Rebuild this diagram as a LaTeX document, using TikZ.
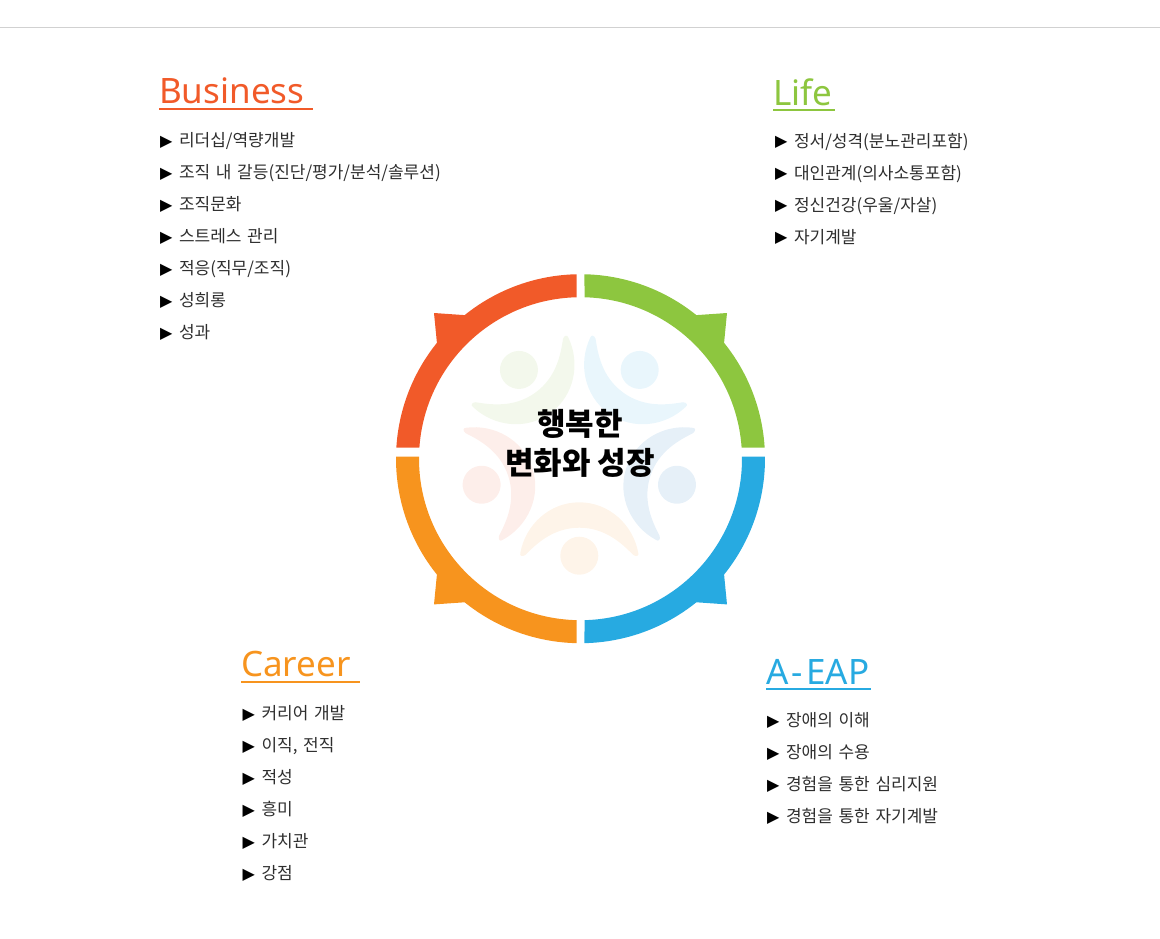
\documentclass[tikz,border=0pt]{standalone}
\usepackage{fontspec}
\setmainfont{Noto Sans CJK KR}
\newfontfamily\trifont{DejaVu Sans}
\newfontfamily\headfont{Noto Sans}
\usetikzlibrary{chains,positioning}

\definecolor{bizred}{HTML}{F15A29}
\definecolor{lifegreen}{HTML}{8DC63F}
\definecolor{eapblue}{HTML}{27AAE1}
\definecolor{careerorange}{HTML}{F7941E}
\definecolor{paleorange}{HTML}{FEF4E9}
\definecolor{palered}{HTML}{FDEEEA}
\definecolor{palegreen}{HTML}{F3F8EC}
\definecolor{palesky}{HTML}{E9F6FC}
\definecolor{paleblue}{HTML}{E6F0F8}

\tikzset{
  headtitle/.style={anchor=base west,inner sep=0pt,align=left,font=\headfont\fontsize{35}{35}\selectfont},
  headline/.style={line width=2pt},
  listrow/.style={on chain,text width=300pt,minimum height=32pt,inner sep=0pt,outer sep=0pt,align=left,
    text=black!82,font=\fontsize{17}{20}\selectfont},
}
\newcommand{\rowtext}[1]{\rule[-4pt]{0pt}{20pt}\makebox[19pt][l]{\raisebox{0.7pt}{\color{black}\trifont\fontsize{16}{16}\selectfont ▶}}#1}

\begin{document}
\begin{tikzpicture}[x=1pt,y=1pt]

\useasboundingbox (0,0) rectangle (1160,-938);
\coordinate (ruleL) at (0,-27.5);
\coordinate (ruleR) at (1160,-27.5);
\draw[black!18,line width=1pt] (ruleL) -- (ruleR);

% faint figures
\begin{scope}[shift={(579.3,-453)}]
\foreach \ang/\col in {0/paleorange,-72/palered,-144/palegreen,-216/palesky,-288/paleblue} {
  \begin{scope}[rotate=\ang]
  \fill[\col] (-59,-100) .. controls (-54,-72) and (-30,-49.3) .. (0,-49.3)
    .. controls (30,-49.3) and (54,-72) .. (59,-100)
    .. controls (60,-103) and (57,-104) .. (54,-102)
    .. controls (44,-92) and (27,-74.7) .. (0,-74.7)
    .. controls (-27,-74.7) and (-44,-92) .. (-54,-102)
    .. controls (-57,-104) and (-60,-103) .. (-59,-100) -- cycle;
  \fill[\col] (0,-102.7) circle (19);
  \end{scope}
}
\end{scope}

% ring
\begin{scope}[shift={(580.5,-458.7)}]
\foreach \sx/\sy/\col/\ao/\ai in {1/1/lifegreen/3.42/3.9,-1/1/bizred/3.42/3.9,1/-1/eapblue/-0.62/-0.71,-1/-1/careerorange/-0.62/-0.71} {
  \begin{scope}[xscale=\sx,yscale=\sy]
  \fill[\col] (88.76:184.5) arc (88.76:51.1:184.5) -- (146.5,145.7) -- (38.9:184.5)
    arc (38.9:\ao:184.5) -- (\ai:161.5) arc (\ai:88.58:161.5) -- cycle;
  \end{scope}
}
\end{scope}

\node[align=center,inner sep=0pt,font=\fontsize{31}{38.5}\selectfont\bfseries] (center) at (580,-443.4) {행복한\\변화와 성장};

% Business
\node[headtitle,text width=154pt,text=bizred] (biz) at (159,-103.3) {Business};
\draw[bizred,headline] ([yshift=-6pt]biz.base west) -- ([yshift=-6pt]biz.base east);
\begin{scope}[shift={(310,-140.7)},start chain=going below,node distance=0pt]
\def\bizlist{1/{리더십/역량개발},2/{조직 내 갈등(진단/평가/분석/솔루션)},3/{조직문화},4/{스트레스 관리},5/{적응(직무/조직)},6/{성희롱},7/{성과}}
\foreach \i / \element in \bizlist
  \node [listrow] (b\i) {\rowtext{\element}};
\end{scope}

% Life
\node[headtitle,text width=62pt,text=lifegreen] (life) at (773,-105) {Life};
\draw[lifegreen,headline] ([yshift=-5.3pt]life.base west) -- ([yshift=-5.3pt]life.base east);
\begin{scope}[shift={(925,-141.4)},start chain=going below,node distance=0pt]
\def\lifelist{1/{정서/성격(분노관리포함)},2/{대인관계(의사소통포함)},3/{정신건강(우울/자살)},4/{자기계발}}
\foreach \i / \element in \lifelist
  \node [listrow] (l\i) {\rowtext{\element}};
\end{scope}

% Career
\node[headtitle,text width=119pt,text=careerorange] (career) at (241,-676.7) {Career};
\draw[careerorange,headline] ([yshift=-5.6pt]career.base west) -- ([yshift=-5.6pt]career.base east);
\begin{scope}[shift={(392.5,-713.7)},start chain=going below,node distance=0pt]
\def\careerlist{1/{커리어 개발},2/{이직, 전직},3/{적성},4/{흥미},5/{가치관},6/{강점}}
\foreach \i / \element in \careerlist
  \node [listrow] (c\i) {\rowtext{\element}};
\end{scope}

% A-EAP
\node[headtitle,text width=105pt,text=eapblue] (eap) at (766,-684.3) {A\kern3pt-\kern3.5pt EAP};
\draw[eapblue,headline] ([yshift=-4.4pt]eap.base west) -- ([yshift=-4.4pt]eap.base east);
\begin{scope}[shift={(917,-720.7)},start chain=going below,node distance=0pt]
\def\eaplist{1/{장애의 이해},2/{장애의 수용},3/{경험을 통한 심리지원},4/{경험을 통한 자기계발}}
\foreach \i / \element in \eaplist
  \node [listrow] (e\i) {\rowtext{\element}};
\end{scope}

\end{tikzpicture}
\end{document}
